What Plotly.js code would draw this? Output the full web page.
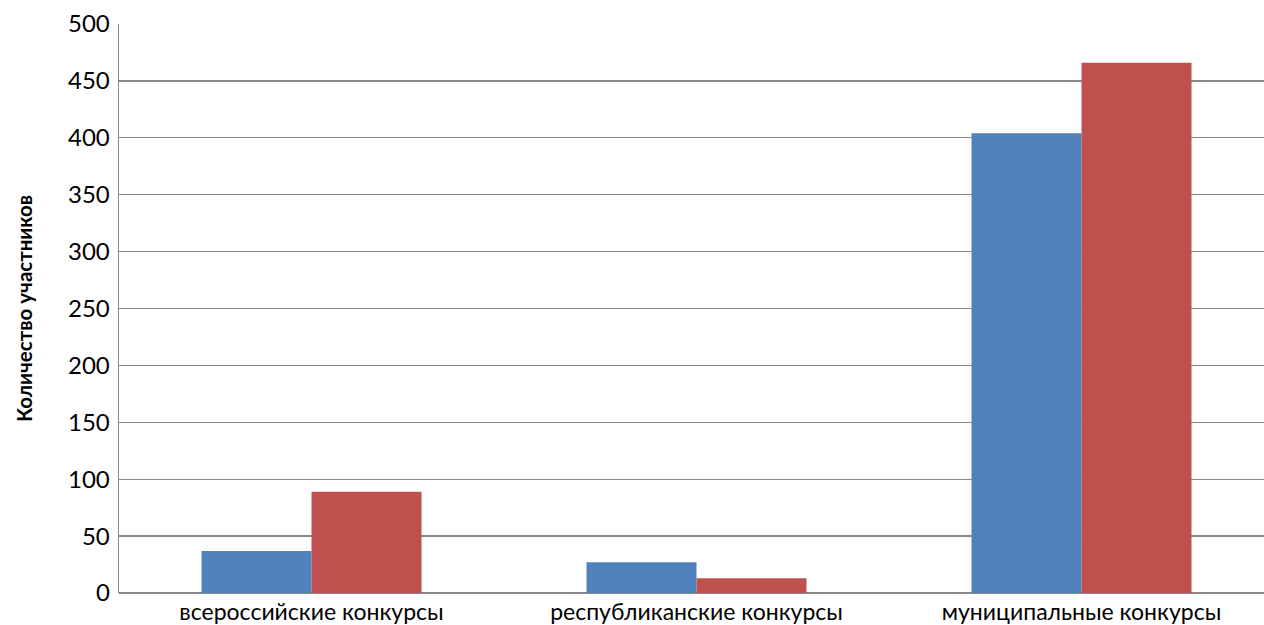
<!DOCTYPE html>
<html>
<head>
<meta charset="utf-8">
<script src="https://cdn.plot.ly/plotly-3.0.1.min.js"></script>
<style>html,body{margin:0;padding:0;background:#fff;}#chart{width:1264px;height:625px;}</style>
</head>
<body>
<div id="chart"></div>
<script>
const categories = ["всероссийские конкурсы", "республиканские конкурсы", "муниципальные конкурсы"];
const series1 = [37, 27, 404];
const series2 = [89, 13, 466];
const yTitle = "Количество участников";

const traces = [
  {type: "bar", x: categories, y: series1, marker: {color: "#4F81BD"}, hoverinfo: "y"},
  {type: "bar", x: categories, y: series2, marker: {color: "#C0504D"}, hoverinfo: "y"}
];

const layout = {
  width: 1264, height: 625,
  margin: {l: 119, r: 0, t: 24, b: 32},
  showlegend: false,
  barmode: "group",
  bargap: 0.4286,
  bargroupgap: 0,
  paper_bgcolor: "#fff",
  plot_bgcolor: "#fff",
  font: {family: "Lato, sans-serif", color: "#000"},
  xaxis: {
    type: "category",
    range: [-0.5, 2.474],
    showgrid: false,
    showline: false,
    zeroline: false,
    ticks: "",
    ticklabelstandoff: 3,
    tickfont: {size: 23, family: "Lato, sans-serif", color: "#000"}
  },
  yaxis: {
    range: [0, 500],
    dtick: 50,
    showgrid: true,
    gridcolor: "#888888",
    gridwidth: 1.3,
    showline: true,
    linecolor: "#888888",
    linewidth: 1.4,
    zeroline: true,
    zerolinecolor: "#888888",
    zerolinewidth: 2,
    ticks: "",
    ticklabelstandoff: 3,
    tickfont: {size: 24, family: "Lato, sans-serif", color: "#000"},
    title: {text: yTitle, font: {size: 20.5, family: "Lato, sans-serif", weight: "bold", color: "#000"}, standoff: 30}
  }
};

Plotly.newPlot("chart", traces, layout, {displayModeBar: false, staticPlot: true});
</script>
</body>
</html>
